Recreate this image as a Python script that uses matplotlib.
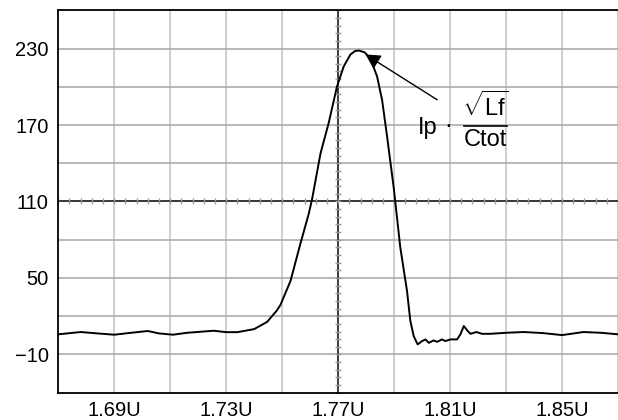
import matplotlib
matplotlib.use('Agg')
import matplotlib.pyplot as plt
import numpy as np

plt.rcParams['font.family'] = ['Liberation Sans', 'DejaVu Sans']
plt.rcParams['mathtext.fontset'] = 'custom'
plt.rcParams['mathtext.rm'] = 'Liberation Sans'
plt.rcParams['mathtext.it'] = 'Liberation Sans:italic'

# waveform (time in U, amplitude)
t = [1.670, 1.678, 1.684, 1.690, 1.696, 1.702, 1.706, 1.711, 1.716, 1.7255,
     1.730, 1.734, 1.740, 1.7446, 1.748, 1.7494, 1.753, 1.7565, 1.7595, 1.7607,
     1.7637, 1.7666, 1.7696, 1.772, 1.7744, 1.7760, 1.7774, 1.7794, 1.7808, 1.7821,
     1.7839, 1.7857, 1.7875, 1.7899, 1.7922, 1.7946, 1.7958, 1.797, 1.7984, 1.800,
     1.8012, 1.8024, 1.8041, 1.8054, 1.8071, 1.8083, 1.8101, 1.8125, 1.8137, 1.8149,
     1.8163, 1.8173, 1.8194, 1.8214, 1.8244, 1.830, 1.8363, 1.843, 1.850, 1.8577,
     1.864, 1.870]
v = [5.8, 7.6, 6.5, 5.5, 7.0, 8.4, 6.5, 5.5, 7.0, 8.6,
     7.5, 7.5, 9.9, 15.5, 24.2, 28.9, 47.8, 76.8, 100.4, 112.0,
     147.7, 171.4, 200.3, 216.0, 225.3, 228.0, 228.4, 227.1, 224.0, 218.7,
     208.2, 189.8, 160.8, 120.1, 74.1, 40.0, 16.3, 4.4, -2.1, 0.5,
     1.8, -0.9, 1.0, -0.1, 1.8, 0.5, 1.8, 1.8, 5.8, 12.3,
     8.4, 6.2, 7.6, 6.2, 6.2, 7.0, 7.6, 6.8, 5.2, 7.6,
     7.0, 5.8]

xticks = [1.69, 1.73, 1.77, 1.81, 1.85]
xtick_labels = ['1.69U', '1.73U', '1.77U', '1.81U', '1.85U']
xminor = [1.71, 1.75, 1.79, 1.83, 1.87]
yticks = [-10, 50, 110, 170, 230]
yminor = [20, 80, 140, 200]

fig = plt.figure(figsize=(6.18, 4.2), dpi=100)
ax = fig.add_axes([0.0943, 0.065, 0.9057, 0.9105])
ax.set_xlim(1.67, 1.87)
ax.set_ylim(-40, 260)

# grid
for x in xticks + xminor:
    ax.axvline(x, color='#c4c4c4', lw=1.1, zorder=0)
for y in yticks + yminor:
    ax.axhline(y, color='#a6a6a6', lw=1.1, zorder=0)

# centre crosshair with small division ticks
ax.axvline(1.77, color='#222222', lw=1.2, zorder=1)
ax.axhline(110, color='#222222', lw=1.2, zorder=1)
hx = np.arange(1.67, 1.8701, 0.004)
ax.plot(hx, np.full_like(hx, 110), ls='none', marker='|', ms=4, mew=1, color='#9a9a9a', zorder=1)
vy = np.arange(-40, 260.1, 6)
ax.plot(np.full_like(vy, 1.77), vy, ls='none', marker='_', ms=4, mew=1, color='#9a9a9a', zorder=1)

ax.plot(t, v, color='black', lw=1.4, zorder=3)

ax.set_xticks(xticks)
ax.set_xticklabels(xtick_labels)
ax.set_yticks(yticks)
ax.tick_params(length=0, labelsize=14.5, colors='black')
ax.tick_params(axis='y', pad=7)
ax.tick_params(axis='x', pad=6)
for s in ['left', 'top', 'bottom']:
    ax.spines[s].set_linewidth(1.3)
ax.spines['right'].set_visible(False)

# annotation
ax.annotate('', xy=(1.7798, 225.3), xytext=(1.8054, 189.8),
            arrowprops=dict(arrowstyle='-|>,head_length=0.55,head_width=0.3',
                            color='black', lw=1, mutation_scale=16,
                            shrinkA=0, shrinkB=0), zorder=4)
ax.text(1.7985, 167.5, 'Ip', fontsize=17, ha='left', va='center')
ax.text(1.8092, 169.0, '\u00b7', fontsize=17, ha='center', va='center')
ax.plot([1.8148, 1.8302], [169.5, 169.5], color='black', lw=1.2)
ax.text(1.8226, 184.5, r'$\sqrt{\mathrm{Lf}}$', fontsize=17, ha='center', va='center')
ax.text(1.8225, 158.5, 'Ctot', fontsize=17, ha='center', va='center')

fig.savefig('out.png', dpi=100)
